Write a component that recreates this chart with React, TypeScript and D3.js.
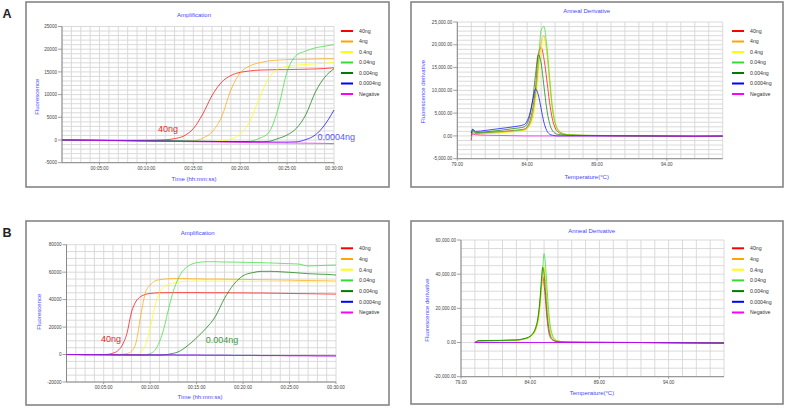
import React from 'react';
import * as d3 from 'd3';

// sample series shared by all four plots
const seriesNames = ['40ng', '4ng', '0.4ng', '0.04ng', '0.004ng', '0.0004ng', 'Negative'];
const seriesColors = ['#ff0000', '#ffa500', '#ffff00', '#33dd33', '#007a00', '#0000ff', '#ff00ff'];

// ---- run A: amplification (minutes) ----
const ampTimeA = [1, 2, 3, 4, 5, 6, 7, 8, 9, 10, 11, 12, 13, 14, 15, 16, 17, 18, 19, 20, 21, 22, 23, 24, 25, 26, 27, 28, 29, 30];
const ampRedA = [0, 20, 20, 0, -20, -40, -50, -60, -60, -50, -20, 50, 300, 900, 2500, 5700, 9800, 12700, 14200, 14900, 15200, 15400, 15450, 15500, 15500, 15550, 15600, 15650, 15750, 15900];
const ampOrangeA = [0, -20, -40, -60, -80, -100, -120, -140, -160, -180, -200, -220, -240, -250, -200, 400, 1800, 5000, 11000, 14800, 16300, 17000, 17400, 17600, 17700, 17750, 17800, 17850, 17900, 17900];
const ampYellowA = [0, -20, -40, -60, -80, -100, -120, -140, -160, -180, -200, -220, -240, -260, -280, -300, -300, -200, 200, 1300, 4000, 9000, 13500, 15600, 16200, 16500, 16650, 16750, 16900, 17100];
const ampLightGreenA = [0, -20, -40, -60, -80, -100, -120, -140, -160, -180, -200, -220, -240, -260, -280, -300, -320, -340, -350, -350, -300, 350, 1500, 6600, 15000, 18700, 19600, 20300, 20650, 21000];
const ampDarkGreenA = [0, -20, -40, -60, -80, -100, -120, -140, -160, -180, -200, -220, -240, -260, -280, -300, -320, -340, -360, -380, -400, -400, -300, 300, 1100, 2600, 5600, 10500, 13800, 15700];
const ampBlueA = [0, -20, -40, -60, -80, -100, -120, -140, -160, -180, -200, -220, -240, -260, -280, -300, -320, -340, -360, -380, -400, -420, -440, -460, -460, -400, 100, 1100, 3300, 6600];
const ampNegA = [0, -30, -60, -90, -110, -130, -150, -170, -200, -230, -260, -290, -320, -350, -380, -410, -440, -470, -500, -530, -560, -590, -620, -640, -660, -680, -700, -720, -750, -800];

// ---- run A: anneal derivative (°C) ----
const meltTempA = [80, 80.1, 80.3, 81, 82, 83, 83.8, 84, 84.2, 84.4, 84.6, 84.8, 85, 85.2, 85.4, 85.6, 85.8, 86, 86.2, 86.6, 87, 88, 90, 92, 94, 96, 98];
const derRedA = [-1000, 900, 500, 700, 900, 1200, 1500, 2000, 3300, 6000, 10500, 18000, 19400, 17000, 12500, 7500, 3800, 1800, 900, 350, 200, 100, 50, 0, -50, -100, -50];
const derOrangeA = [200, 600, 400, 500, 700, 1000, 1300, 1600, 2500, 4500, 8500, 14500, 20500, 22000, 18500, 12000, 6000, 2800, 1300, 450, 250, 120, 60, 0, -50, -80, -60];
const derYellowA = [300, 700, 400, 500, 650, 900, 1200, 1500, 2200, 3500, 7000, 12500, 18500, 21200, 19500, 13500, 7000, 3200, 1500, 500, 250, 120, 60, 0, -50, -80, -60];
const derLightGreenA = [-300, 1200, 600, 700, 900, 1100, 1400, 1800, 2800, 5000, 9500, 16000, 23200, 24000, 20000, 13000, 6500, 3000, 1400, 500, 250, 150, 80, 20, -50, -80, -50];
const derDarkGreenA = [0, 1400, 700, 900, 1200, 1600, 2000, 2700, 4500, 8000, 13500, 17800, 16000, 11000, 6000, 2800, 1200, 600, 350, 200, 150, 100, 50, 0, -30, -60, -40];
const derBlueA = [600, 1500, 1000, 1200, 1600, 2000, 2500, 3300, 5000, 7800, 10300, 9000, 6000, 3000, 1200, 400, 150, 50, 0, 0, 0, 0, 0, 0, -30, -50, -30];
const derNegA = [300, 400, 250, 150, 100, 50, 0, 0, 0, 0, 0, 0, 0, 0, 0, 0, 0, 0, 0, 0, 0, 0, 0, 0, -50, -100, -50];

// ---- run B: amplification (minutes) ----
const ampTimeB = [1, 2, 3, 4, 5, 5.5, 6, 6.5, 7, 7.5, 8, 8.5, 9, 9.5, 10, 10.5, 11, 11.5, 12, 12.5, 13, 13.5, 14, 14.5, 15, 16, 17, 18, 19, 20, 21, 22, 23, 24, 25, 26, 27, 28, 29, 30];
const ampRedB = [0, 0, -100, -100, 0, 200, 1000, 2700, 6800, 15300, 31000, 39000, 42300, 43800, 44500, 44800, 45000, 45000, 45100, 45100, 45100, 45100, 45100, 45100, 45100, 45000, 45000, 45000, 44900, 44900, 44800, 44800, 44700, 44600, 44500, 44400, 44300, 44200, 44100, 44000];
const ampOrangeB = [0, 0, -100, -100, -200, -200, -200, -100, 200, 700, 2400, 9200, 28700, 45300, 50600, 53500, 54500, 55000, 55200, 55400, 55500, 55400, 55300, 55200, 55200, 55000, 55000, 54900, 54800, 54700, 54600, 54500, 54400, 54300, 54200, 54000, 53900, 53800, 53700, 53500];
const ampYellowB = [0, 0, -100, -100, -200, -200, -200, -300, -300, -300, -300, -100, 1700, 6800, 19000, 34800, 45000, 49400, 51100, 52100, 52800, 53100, 53300, 53400, 53500, 53500, 53500, 53500, 53400, 53400, 53300, 53300, 53200, 53200, 53100, 53100, 53000, 53000, 53000, 53000];
const ampLightGreenB = [0, 0, -100, -100, -200, -200, -300, -300, -300, -300, -400, -400, -400, -300, 700, 3000, 9200, 19500, 33600, 46200, 55000, 60800, 64000, 65900, 66900, 67600, 67600, 67400, 67300, 67200, 67100, 66900, 66700, 66400, 66200, 65900, 64500, 64700, 65000, 65200];
const ampDarkGreenB = [0, 0, -100, -100, -200, -200, -300, -300, -300, -400, -400, -400, -400, -400, -400, -400, -400, -300, 200, 900, 1900, 3800, 6300, 9000, 12200, 19000, 27500, 40900, 51100, 57400, 59600, 60600, 60600, 60300, 59900, 59400, 58900, 58600, 58400, 57900];
const ampBlueB = [0, 0, -100, -100, -100, -100, -200, -200, -200, -200, -200, -200, -300, -300, -300, -300, -300, -300, -300, -300, -400, -400, -400, -400, -400, -500, -500, -500, -600, -600, -600, -700, -700, -700, -800, -800, -800, -900, -900, -1000];
const ampNegB = [0, -100, -100, -100, -200, -200, -200, -200, -300, -300, -300, -300, -300, -300, -400, -400, -400, -400, -400, -400, -500, -500, -500, -500, -500, -600, -600, -600, -700, -700, -700, -800, -800, -800, -900, -900, -900, -1000, -1000, -1000];

// ---- run B: anneal derivative (°C) ----
const meltTempB = [80, 80.3, 81, 82, 83, 83.5, 84, 84.2, 84.4, 84.5, 84.6, 84.7, 84.8, 84.9, 85, 85.1, 85.2, 85.3, 85.4, 85.6, 85.8, 86, 86.5, 87, 88, 90, 92, 94, 96, 98];
const derRedB = [0, 1000, 1100, 1200, 1400, 2000, 3500, 5000, 8000, 10500, 15000, 22000, 31000, 38500, 34000, 25000, 15000, 8000, 4000, 1500, 800, 500, 300, 200, 100, 50, 0, -100, -200, -300];
const derOrangeB = [0, 1000, 1100, 1200, 1400, 2000, 3500, 5000, 8000, 10500, 14500, 22000, 33000, 43000, 44000, 37000, 27000, 17000, 10000, 3500, 1500, 800, 400, 300, 200, 100, 0, -100, -200, -300];
const derYellowB = [0, 900, 1000, 1100, 1300, 1800, 3200, 4500, 7000, 9500, 13000, 19000, 28000, 38000, 44500, 41000, 31000, 20000, 12000, 4000, 1600, 900, 400, 300, 200, 100, 0, -100, -200, -300];
const derLightGreenB = [0, 1000, 1100, 1200, 1400, 2000, 3500, 5000, 8000, 11000, 16000, 23000, 32000, 43000, 52000, 46000, 34000, 22000, 13000, 4500, 1800, 900, 400, 300, 200, 100, 0, -100, -200, -300];
const derDarkGreenB = [0, 1100, 1200, 1300, 1500, 2200, 3800, 5500, 9000, 12000, 17000, 25000, 36000, 44000, 40000, 30000, 19000, 11000, 6000, 2000, 900, 500, 300, 200, 100, 50, 0, -100, -200, -300];
const derBlueB = [0, 0, 0, 0, 0, 0, 0, 0, 0, 0, 0, 0, 0, 0, 0, 0, 0, 0, 0, 0, 0, 0, 0, 0, 0, 0, 0, -100, -200, -300];
const derNegB = [0, 100, 100, 100, 100, 100, 0, 0, 0, 0, 0, 0, 0, 0, 0, 0, 0, 0, 0, 0, 0, 0, 0, 0, 0, 0, 0, -100, -200, -300];

// tick values
const timeTicks = [5, 10, 15, 20, 25, 30];
const tempTicks = [79, 84, 89, 94];
const ampTicksA = [-5000, 0, 5000, 10000, 15000, 20000, 25000];
const ampTicksB = [-20000, 0, 20000, 40000, 60000, 80000];
const derTicksA = [-5000, 0, 5000, 10000, 15000, 20000, 25000];
const derTicksB = [-20000, 0, 20000, 40000, 60000];

const FONT = '"Liberation Sans", Arial, sans-serif';
const BLUE_TEXT = '#4646ff';
const GRID = '#d6d6d6';

const fmtTime = (m: number) => `00:${String(m).padStart(2, '0')}:00`;
const fmtTemp = (t: number) => t.toFixed(2);
const fmtPlain = (v: number) => String(v);
const locale = d3.formatLocale({ decimal: '.', thousands: ',', grouping: [3], currency: ['', ''], minus: '-' });
const fmtDer = locale.format(',.2f');

type Note = { text: string; x: number; y: number; color: string };

type PanelProps = {
  frame: { x: number; y: number; w: number; h: number };
  plot: { l: number; r: number; t: number; b: number };
  xDomain: [number, number];
  yDomain: [number, number];
  xTicks: number[];
  xGrid: number[];
  yTicks: number[];
  yGrid: number[];
  fmtX: (v: number) => string;
  fmtY: (v: number) => string;
  xs: number[];
  series: number[][];
  title: string;
  titlePos: [number, number];
  xLabel: string;
  xLabelPos: [number, number];
  yLabel: string;
  yLabelPos: [number, number];
  legend: { x: number; y: number; step: number };
  notes?: Note[];
};

function Panel(p: PanelProps) {
  const x = d3.scaleLinear().domain(p.xDomain).range([p.plot.l, p.plot.r]);
  const y = d3.scaleLinear().domain(p.yDomain).range([p.plot.b, p.plot.t]);
  const line = d3
    .line<number>()
    .x((_, i) => x(p.xs[i]))
    .y((d) => y(d))
    .curve(d3.curveMonotoneX);

  return (
    <g>
      <rect x={p.frame.x} y={p.frame.y} width={p.frame.w} height={p.frame.h} fill="#fff" stroke="#858585" strokeWidth={1.6} />

      {/* grid */}
      {p.xGrid.map((g) => (
        <line key={'gx' + g} x1={x(g)} x2={x(g)} y1={p.plot.t} y2={p.plot.b} stroke={GRID} strokeWidth={0.9} />
      ))}
      {p.yGrid.map((g) => (
        <line key={'gy' + g} x1={p.plot.l} x2={p.plot.r} y1={y(g)} y2={y(g)} stroke={GRID} strokeWidth={0.9} />
      ))}

      {/* axes */}
      <line x1={p.plot.l} x2={p.plot.l} y1={p.plot.t} y2={p.plot.b} stroke="#888" strokeWidth={1} />
      <line x1={p.plot.l} x2={p.plot.r} y1={p.plot.b} y2={p.plot.b} stroke="#888" strokeWidth={1} />
      {p.yTicks.map((t) => (
        <g key={'yt' + t}>
          <line x1={p.plot.l - 4} x2={p.plot.l} y1={y(t)} y2={y(t)} stroke="#888" strokeWidth={0.8} />
          <text x={p.plot.l - 5} y={y(t) + 1.6} fontSize={4.6} fill="#444" textAnchor="end" fontFamily={FONT}>
            {p.fmtY(t)}
          </text>
        </g>
      ))}
      {p.xTicks.map((t) => (
        <g key={'xt' + t}>
          <line x1={x(t)} x2={x(t)} y1={p.plot.b} y2={p.plot.b + 2} stroke="#888" strokeWidth={0.8} />
          <text x={x(t)} y={p.plot.b + 7} fontSize={4.6} fill="#444" textAnchor="middle" fontFamily={FONT}>
            {p.fmtX(t)}
          </text>
        </g>
      ))}

      {/* curves */}
      {p.series.map((vals, i) => (
        <path key={'s' + i} d={line(vals) || ''} fill="none" stroke={seriesColors[i]} strokeWidth={1} strokeOpacity={0.7} />
      ))}

      {/* titles */}
      <text x={p.titlePos[0]} y={p.titlePos[1]} fontSize={6} fill={BLUE_TEXT} textAnchor="middle" fontFamily={FONT}>
        {p.title}
      </text>
      <text x={p.xLabelPos[0]} y={p.xLabelPos[1]} fontSize={6} fill={BLUE_TEXT} textAnchor="middle" fontFamily={FONT}>
        {p.xLabel}
      </text>
      <text
        transform={`translate(${p.yLabelPos[0]},${p.yLabelPos[1]}) rotate(-90)`}
        dy={2}
        fontSize={6}
        fill={BLUE_TEXT}
        textAnchor="middle"
        fontFamily={FONT}
      >
        {p.yLabel}
      </text>

      {/* legend */}
      {seriesNames.map((n, i) => {
        const ly = p.legend.y + i * p.legend.step;
        return (
          <g key={'lg' + n}>
            <line x1={p.legend.x} x2={p.legend.x + 12} y1={ly} y2={ly} stroke={seriesColors[i]} strokeWidth={2} />
            <text x={p.legend.x + 18} y={ly + 1.8} fontSize={5.2} fill="#333" fontFamily={FONT}>
              {n}
            </text>
          </g>
        );
      })}

      {(p.notes || []).map((n) => (
        <text key={n.text} x={n.x} y={n.y} fontSize={9} fill={n.color} fontFamily={FONT}>
          {n.text}
        </text>
      ))}
    </g>
  );
}

export default function App() {
  const minuteGrid = d3.range(1, 31);
  const degreeGrid = d3.range(79, 99);

  return (
    <svg
      width={787}
      height={408}
      viewBox="0 0 787 408"
      style={{ position: 'absolute', left: 0, top: 0, background: '#fff' }}
    >
      <rect width={787} height={408} fill="#fff" />

      <text x={2.5} y={17.5} fontSize={12.5} fontWeight="bold" fill="#222" fontFamily={FONT}>A</text>
      <text x={2.5} y={236.5} fontSize={12.5} fontWeight="bold" fill="#222" fontFamily={FONT}>B</text>

      <Panel
        frame={{ x: 26, y: 2, w: 363, h: 185 }}
        plot={{ l: 62, r: 334, t: 26.5, b: 162.7 }}
        xDomain={[1, 30]}
        yDomain={[-5000, 25000]}
        xTicks={timeTicks}
        xGrid={minuteGrid}
        yTicks={ampTicksA}
        yGrid={d3.range(-5000, 25001, 1000)}
        fmtX={fmtTime}
        fmtY={fmtPlain}
        xs={ampTimeA}
        series={[ampRedA, ampOrangeA, ampYellowA, ampLightGreenA, ampDarkGreenA, ampBlueA, ampNegA]}
        title="Amplification"
        titlePos={[194, 16.8]}
        xLabel="Time (hh:mm:ss)"
        xLabelPos={[194, 181]}
        yLabel="Fluorescence"
        yLabelPos={[37.3, 96.7]}
        legend={{ x: 341, y: 31, step: 10.5 }}
        notes={[
          { text: '40ng', x: 158, y: 131.5, color: '#e22a2a' },
          { text: '0.0004ng', x: 317.5, y: 139.5, color: '#5656ff' },
        ]}
      />

      <Panel
        frame={{ x: 411, y: 2, w: 372, h: 185 }}
        plot={{ l: 457.3, r: 722.7, t: 22, b: 158.7 }}
        xDomain={[79, 98]}
        yDomain={[-5000, 25000]}
        xTicks={tempTicks}
        xGrid={degreeGrid}
        yTicks={derTicksA}
        yGrid={d3.range(-5000, 25001, 1000)}
        fmtX={fmtTemp}
        fmtY={fmtDer}
        xs={meltTempA}
        series={[derRedA, derOrangeA, derYellowA, derLightGreenA, derDarkGreenA, derBlueA, derNegA]}
        title="Anneal Derivative"
        titlePos={[586.7, 12.8]}
        xLabel="Temperature(°C)"
        xLabelPos={[586.7, 178.8]}
        yLabel="Fluorescence derivative"
        yLabelPos={[423.3, 91.7]}
        legend={{ x: 732, y: 31, step: 10.5 }}
      />

      <Panel
        frame={{ x: 26, y: 221, w: 363, h: 184 }}
        plot={{ l: 66.5, r: 336, t: 244.7, b: 382 }}
        xDomain={[1, 30]}
        yDomain={[-20000, 80000]}
        xTicks={timeTicks}
        xGrid={minuteGrid}
        yTicks={ampTicksB}
        yGrid={d3.range(-20000, 80001, 5000)}
        fmtX={fmtTime}
        fmtY={fmtPlain}
        xs={ampTimeB}
        series={[ampRedB, ampOrangeB, ampYellowB, ampLightGreenB, ampDarkGreenB, ampBlueB, ampNegB]}
        title="Amplification"
        titlePos={[197.7, 235.4]}
        xLabel="Time (hh:mm:ss)"
        xLabelPos={[200, 398.8]}
        yLabel="Fluorescence"
        yLabelPos={[39, 311.7]}
        legend={{ x: 341, y: 248.3, step: 10.7 }}
        notes={[
          { text: '40ng', x: 101, y: 341.5, color: '#e22a2a' },
          { text: '0.004ng', x: 205.7, y: 342.5, color: '#3a9a3a' },
        ]}
      />

      <Panel
        frame={{ x: 411, y: 221, w: 372, h: 183 }}
        plot={{ l: 461, r: 724, t: 240, b: 376.7 }}
        xDomain={[79, 98]}
        yDomain={[-20000, 60000]}
        xTicks={tempTicks}
        xGrid={degreeGrid}
        yTicks={derTicksB}
        yGrid={d3.range(-20000, 60001, 5000)}
        fmtX={fmtTemp}
        fmtY={fmtDer}
        xs={meltTempB}
        series={[derRedB, derOrangeB, derYellowB, derLightGreenB, derDarkGreenB, derBlueB, derNegB]}
        title="Anneal Derivative"
        titlePos={[591.7, 232.8]}
        xLabel="Temperature(°C)"
        xLabelPos={[592, 395.4]}
        yLabel="Fluorescence derivative"
        yLabelPos={[426.7, 310]}
        legend={{ x: 732, y: 248.3, step: 10.7 }}
      />
    </svg>
  );
}
